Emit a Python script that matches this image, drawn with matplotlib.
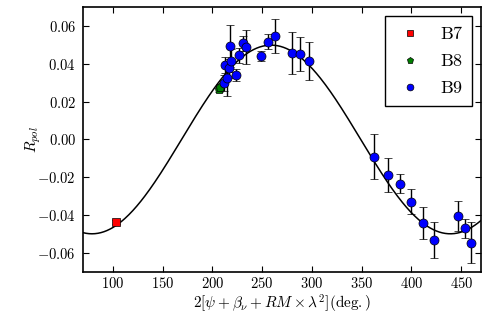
import numpy as np
import matplotlib
matplotlib.use("Agg")
import matplotlib.pyplot as plt
from matplotlib.ticker import FuncFormatter

# data
b7_x = [103.0]
b7_y = [-0.0435]
b7_err = [0.001]

b8_x = [206.5, 208.0]
b8_y = [0.0266, 0.0276]
b8_err = [0.0015, 0.0015]

b9_x = [211.5, 215.0, 212.4, 216.4, 218.4, 217.7, 223.7, 226.8, 231.0, 233.8,
        248.6, 255.6, 263.0, 280.0, 288.0, 297.5, 362.6, 376.0, 388.7, 399.5,
        411.4, 422.2, 446.4, 453.4, 460.2]
b9_y = [0.0298, 0.0322, 0.0393, 0.0375, 0.0416, 0.0495, 0.0340, 0.0444, 0.0507, 0.0490,
        0.0442, 0.0516, 0.0544, 0.0458, 0.0451, 0.0416, -0.0090, -0.0187, -0.0233, -0.0328,
        -0.0442, -0.0532, -0.0403, -0.0470, -0.0544]
b9_err = [0.004, 0.009, 0.004, 0.005, 0.006, 0.011, 0.003, 0.004, 0.004, 0.009,
          0.0027, 0.004, 0.009, 0.011, 0.009, 0.010, 0.012, 0.009, 0.005, 0.0068,
          0.0083, 0.0095, 0.008, 0.005, 0.011]

# fitted model: R = A cos(x - x0)
amp = 0.0498
x_peak = 259.0

plt.rcParams['mathtext.fontset'] = 'cm'
plt.rcParams['font.family'] = 'serif'
plt.rcParams['font.serif'] = ['DejaVu Serif']

fig = plt.figure(figsize=(4.91, 3.27), dpi=100)
ax = fig.add_axes([0.169, 0.168, 0.811, 0.811])

xx = np.linspace(70, 470, 400)
ax.plot(xx, amp * np.cos(np.radians(xx - x_peak)), color='k', lw=1.1, zorder=1)

err_kw = dict(ecolor='k', elinewidth=1, capsize=3, capthick=1, ls='none',
              markeredgecolor='k', markeredgewidth=0.5, zorder=3)
ax.errorbar(b7_x, b7_y, yerr=b7_err, fmt='s', color='r', markersize=5.5,
            label=r'$\mathrm{B7}$', **err_kw)
ax.errorbar(b8_x, b8_y, yerr=b8_err, fmt='p', color='g', markersize=6.5,
            label=r'$\mathrm{B8}$', **err_kw)
ax.errorbar(b9_x, b9_y, yerr=b9_err, fmt='o', color='b', markersize=6.5,
            label=r'$\mathrm{B9}$', **err_kw)

ax.set_xlim(70, 470)
ax.set_ylim(-0.07, 0.07)
ax.set_xticks(np.arange(100, 451, 50))
ax.set_yticks(np.arange(-0.06, 0.061, 0.02))
ax.xaxis.set_major_formatter(FuncFormatter(lambda v, p: r'$%d$' % v))
ax.yaxis.set_major_formatter(FuncFormatter(lambda v, p: r'$%.2f$' % (0 if abs(v) < 1e-9 else v)))
ax.tick_params(direction='in', top=True, right=True, length=4, labelsize=10.5)
ax.tick_params(axis='x', pad=3)
ax.tick_params(axis='y', pad=5)
for s in ax.spines.values():
    s.set_linewidth(1.2)

ax.set_xlabel(r'$2[\psi+\beta_\nu+RM\times\lambda^2](\mathrm{deg.})$', fontsize=11, labelpad=1)
ax.set_ylabel(r'$R_{pol}$', fontsize=11, labelpad=-4)

# legend shows markers only
handles, labels = ax.get_legend_handles_labels()
handles = [h[0] for h in handles]
leg = ax.legend(handles, labels, loc='upper right', numpoints=1, fontsize=13,
                fancybox=False, framealpha=1, edgecolor='k', markerscale=0.75,
                labelspacing=0.5, borderpad=0.5, handlelength=1.7, handletextpad=0.8,
                borderaxespad=0.5)
leg.get_frame().set_linewidth(1.0)

fig.savefig('out.png', dpi=100)
